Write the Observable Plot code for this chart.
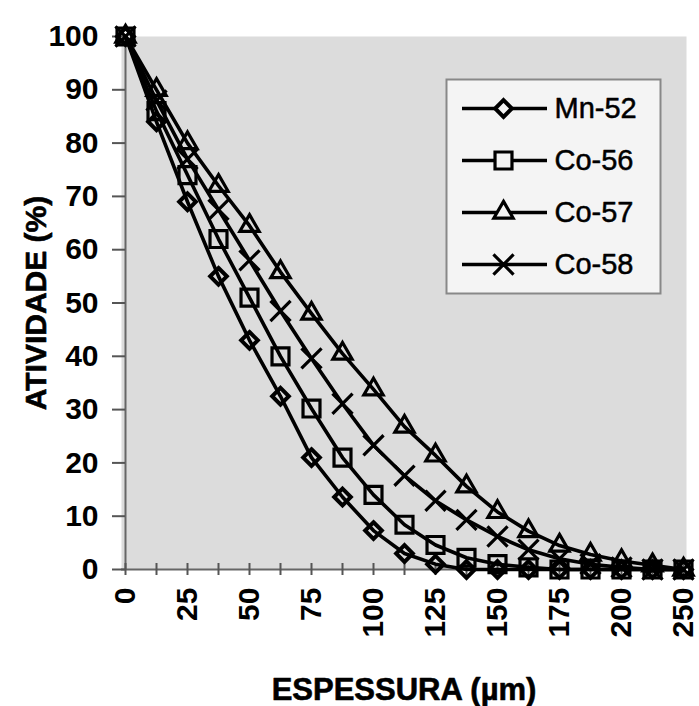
<!DOCTYPE html>
<html>
<head>
<meta charset="utf-8">
<script src="https://cdn.jsdelivr.net/npm/d3@7"></script>
<script src="https://cdn.jsdelivr.net/npm/@observablehq/plot@0.6"></script>
<style>
html, body { margin: 0; padding: 0; background: #fff; }
#wrap { position: relative; width: 699px; height: 706px; font-family: "Liberation Sans", Arial, sans-serif; }
#legend { position: absolute; left: 445px; top: 78px; }
svg { font-family: "Liberation Sans", Arial, sans-serif; }
</style>
</head>
<body>
<div id="wrap"><div id="chart"></div><div id="legend"></div></div>
<script>
// Categories (thickness, µm) — Excel-style category axis
const categories = [0, 12.5, 25, 37.5, 50, 62.5, 75, 87.5, 100, 112.5, 125, 137.5, 150, 162.5, 175, 187.5, 200, 225, 250];
const tickLabels = ["0", "25", "50", "75", "100", "125", "150", "175", "200", "250"];
const yTicks = [0, 10, 20, 30, 40, 50, 60, 70, 80, 90, 100];
const seriesNames = ["Mn-52", "Co-56", "Co-57", "Co-58"];

// Activity (%) per series
const mn52 = [100, 84, 69, 55, 43, 32.5, 21, 13.6, 7.3, 3, 1, 0, 0, 0, 0, 0, 0, 0, 0];
const co56 = [100, 86, 74, 62, 51, 40, 30.2, 21, 14, 8.4, 4.6, 2.2, 1, 0.4, 0, 0, 0, 0, 0];
const co57 = [100, 90, 80, 72, 64.5, 55.8, 48, 40.5, 33.8, 26.8, 21.4, 15.6, 10.8, 7.2, 4.5, 2.8, 1.6, 0.8, 0];
const co58 = [100, 88, 77, 67.5, 58, 48.5, 39.6, 31.1, 23.3, 17.6, 12.9, 9.3, 6.2, 3.7, 2, 1, 0.4, 0, 0];

const seriesValues = [mn52, co56, co57, co58];
const styles = [
  {symbol: "diamond2", r: 7.5, strokeWidth: 4},
  {symbol: "square2", r: 10.8, strokeWidth: 3.2},
  {symbol: "triangle2", r: 9.2, strokeWidth: 3.2},
  {symbol: "times", r: 9.2, strokeWidth: 3.2}
];

const labelled = categories.filter((c, i) => i % 2 === 0);
const labelOf = new Map(labelled.map((c, i) => [c, tickLabels[i]]));

const font = {fontSize: 30, fontWeight: "bold", fill: "black", stroke: "black", strokeWidth: 0.8};

const seriesMarks = seriesNames.flatMap((name, s) => {
  const rows = seriesValues[s].map((v, i) => ({name, x: categories[i], y: v}));
  return [
    Plot.line(rows, {x: "x", y: "y", stroke: "black", strokeWidth: 3.6}),
    Plot.dot(rows, {x: "x", y: "y", symbol: styles[s].symbol, r: styles[s].r, stroke: "black", fill: "none", strokeWidth: styles[s].strokeWidth})
  ];
});

const chart = Plot.plot({
  width: 699,
  height: 706,
  marginLeft: 121,
  marginRight: 13,
  marginTop: 36,
  marginBottom: 137,
  style: {background: "white", overflow: "visible"},
  x: {type: "point", domain: categories, padding: 0},
  y: {domain: [0, 100]},
  marks: [
    Plot.frame({fill: "#dcdcdc", stroke: null}),
    Plot.ruleX([categories[0]], {stroke: "#666", strokeWidth: 2}),
    Plot.ruleY([0], {stroke: "#666", strokeWidth: 2}),
    Plot.axisX({tickSize: 12, dy: -6, tickFormat: () => "", label: null, stroke: "#555", strokeWidth: 2}),
    Plot.axisX({tickSize: 0, tickPadding: 18, tickRotate: -90, tickFormat: d => labelOf.get(d) ?? "", label: null, ...font}),
    Plot.axisY({ticks: yTicks, tickSize: 13, dx: 4, tickFormat: () => "", label: null, stroke: "#555", strokeWidth: 2}),
    Plot.axisY({ticks: yTicks, tickSize: 0, tickPadding: 23, label: null, ...font}),
    Plot.text(["ESPESSURA (µm)"], {text: d => d, frameAnchor: "bottom", dy: 121, lineAnchor: "middle", fontSize: 31, fontWeight: "bold", fill: "black", stroke: "black", strokeWidth: 0.6}),
    Plot.text(["ATIVIDADE (%)"], {text: d => d, frameAnchor: "left", dx: -85, rotate: -90, textAnchor: "middle", lineAnchor: "middle", fontSize: 30, fontWeight: "bold", fill: "black", stroke: "black", strokeWidth: 0.6}),
    ...seriesMarks
  ]
});
document.getElementById("chart").appendChild(chart);

const legend = Plot.plot({
  width: 216,
  height: 216,
  margin: 0,
  style: {background: "transparent", overflow: "visible"},
  x: {domain: [0, 216], axis: null},
  y: {type: "point", domain: seriesNames, padding: 0.56, axis: null},
  marks: [
    Plot.frame({fill: "#f4f4f4", stroke: "#888", strokeWidth: 2, inset: 1}),
    Plot.ruleY(seriesNames, {y: d => d, x1: 17, x2: 102, stroke: "black", strokeWidth: 3.5}),
    ...seriesNames.map((name, s) => Plot.dot([name], {x: 58, y: d => d, symbol: styles[s].symbol, r: styles[s].r, stroke: "black", fill: "#f4f4f4", strokeWidth: styles[s].strokeWidth})),
    Plot.text(seriesNames, {x: 109, y: d => d, text: d => d, textAnchor: "start", lineAnchor: "middle", fontSize: 29, fill: "black", stroke: "black", strokeWidth: 0.5})
  ]
});
document.getElementById("legend").appendChild(legend);
</script>
</body>
</html>
